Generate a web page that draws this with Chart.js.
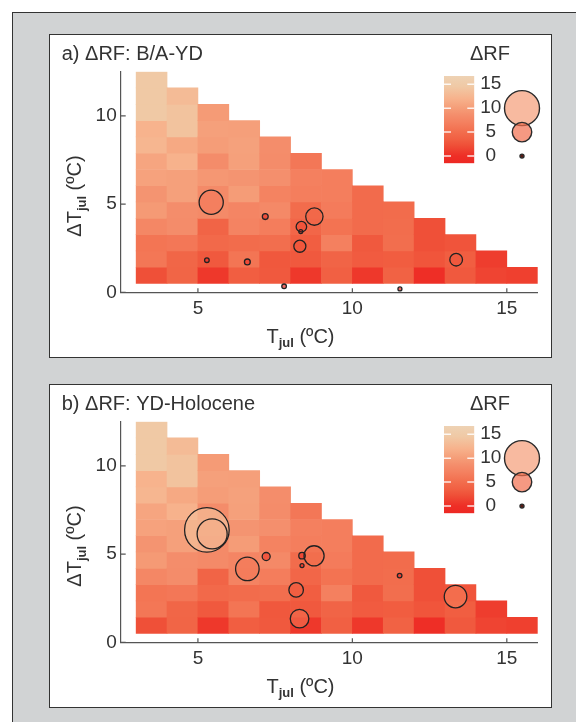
<!DOCTYPE html>
<html>
<head>
<meta charset="utf-8">
<script src="https://cdn.jsdelivr.net/npm/chart.js@4.4.1/dist/chart.umd.min.js"></script>
<style>
  body { margin: 0; width: 576px; height: 722px; overflow: hidden; position: relative; background: #fff; }
  .frame { position: absolute; left: 12px; top: 12px; width: 600px; height: 740px; background: #d1d3d4; border: 1px solid #333; }
  .panel { position: absolute; left: 49px; width: 501px; height: 322px; background: #fff; border: 1px solid #333; }
  .panel canvas { position: absolute; }
</style>
</head>
<body>
<div class="frame"></div>
<div class="panel" style="top:34px">
  <canvas id="mainA" width="501" height="322" style="left:0;top:0"></canvas>
  <canvas id="barA" width="117" height="108" style="left:384px;top:31px"></canvas>
  <canvas id="keyA" width="48" height="108" style="left:448px;top:31px"></canvas>
</div>
<div class="panel" style="top:384px">
  <canvas id="mainB" width="501" height="322" style="left:0;top:0"></canvas>
  <canvas id="barB" width="117" height="108" style="left:384px;top:31px"></canvas>
  <canvas id="keyB" width="48" height="108" style="left:448px;top:31px"></canvas>
</div>
<script>
// grid bins
var tjulEdges = [3, 4, 5, 6, 7, 8, 9, 10, 11, 12, 13, 14, 15, 16];
var dTEdges = [0.5, 1.42, 2.35, 3.27, 4.19, 5.12, 6.04, 6.96, 7.88, 8.81, 9.73, 10.65, 11.58, 12.5];

// background dRF per Tjul column, from the lowest dT row upwards
var rfGrid = [
  [2.3, 6.0, 5.8, 7.8, 9.7, 9.2, 10.5, 10.8, 12.4, 12.1, 14.5, 14.5, 14.5],
  [4.1, 4.2, 6.1, 8.4, 8.5, 10.3, 10.3, 12.0, 11.1, 13.8, 13.8, 13.0],
  [0.7, 3.0, 4.6, 4.0, 8.1, 8.1, 9.4, 8.4, 10.0, 10.3, 9.8],
  [3.4, 5.8, 4.9, 7.4, 7.6, 9.9, 9.2, 10.3, 10.4, 10.2],
  [3.0, 2.9, 5.1, 6.7, 8.0, 7.3, 8.7, 8.4, 8.5],
  [0.7, 3.0, 3.4, 4.3, 4.9, 6.8, 7.0, 6.1],
  [3.6, 4.0, 7.0, 5.6, 6.5, 6.8, 6.8],
  [0.7, 3.2, 3.0, 4.8, 4.8, 4.8],
  [3.8, 3.3, 5.1, 5.0, 4.9],
  [0.0, 2.7, 2.3, 2.3],
  [3.0, 3.4, 2.6],
  [1.5, 1.0],
  [1.2]
];

// sites, panel a (B/A-YD)
var sitesA_tjul = [5.43, 7.18, 8.77, 8.35, 8.33, 8.30, 13.36, 5.29, 6.60, 7.79, 11.54];
var sitesA_dT   = [5.10, 4.29, 4.29, 3.72, 3.44, 2.61, 1.85, 1.82, 1.72, 0.34, 0.19];
var sitesA_rf   = [6.5, 0.6, 4.3, 2.1, 0.0, 2.6, 2.8, 0.2, 0.6, 0.2, 0.0];

// sites, panel b (YD-Holocene)
var sitesB_tjul = [5.46, 5.29, 6.60, 7.21, 8.37, 8.76, 8.37, 8.18, 8.29, 11.53, 13.34];
var sitesB_dT   = [6.14, 6.37, 4.16, 4.86, 4.91, 4.90, 4.35, 2.97, 1.34, 3.78, 2.59];
var sitesB_rf   = [8.4, 13.1, 6.3, 1.3, 0.8, 5.2, 0.0, 3.4, 4.7, 0.2, 6.0];

var legendRF = [10, 5, 0];
var cbarMin = -1.5, cbarMax = 16.7;

var cmapStops = [
  [-1.5, [237, 40, 35]], [0, [238, 46, 38]], [2.3, [239, 80, 56]], [3.5, [241, 95, 66]],
  [5, [242, 109, 77]], [7, [244, 128, 95]], [8.5, [244, 141, 107]], [10, [245, 157, 120]],
  [12, [247, 178, 140]], [14.5, [240, 201, 165]], [16.7, [238, 210, 180]]
];

var fontFam = "'Liberation Sans', Arial, Helvetica, sans-serif";
var textDark = '#333';
var axisGrey = '#555';

function rfColor(v, a) {
  var i = 0;
  while (i < cmapStops.length - 2 && v > cmapStops[i + 1][0]) i++;
  var s0 = cmapStops[i], s1 = cmapStops[i + 1];
  var t = Math.max(0, Math.min(1, (v - s0[0]) / (s1[0] - s0[0])));
  var c = s0[1].map(function (q, k) { return Math.round(q + (s1[1][k] - q) * t); });
  return 'rgba(' + c[0] + ',' + c[1] + ',' + c[2] + ',' + a + ')';
}

function rfRadius(v) {
  return 2 + 1.55 * v;
}

// text with a subscript part, centred on x
function drawSubText(ctx, parts, x, y) {
  var total = 0;
  parts.forEach(function (p) { ctx.font = p[1]; total += ctx.measureText(p[0]).width; });
  var cx = x - total / 2;
  parts.forEach(function (p) {
    ctx.font = p[1];
    ctx.fillText(p[0], cx, y + p[2]);
    cx += ctx.measureText(p[0]).width;
  });
}

function textPlugin(title) {
  return {
    id: 'panelText',
    afterDraw: function (chart) {
      var ctx = chart.ctx;
      var big = '20px ' + fontFam, sub = 'bold 13px ' + fontFam;
      ctx.save();
      ctx.fillStyle = textDark;
      ctx.textBaseline = 'alphabetic';
      ctx.textAlign = 'left';
      ctx.font = big;
      ctx.fillText(title, 11.7, 25);
      ctx.textAlign = 'center';
      ctx.fillText('ΔRF', 440, 25);
      ctx.textAlign = 'left';
      drawSubText(ctx, [['T', big, 0], ['jul', sub, 4.5], [' (ºC)', big, 0]], chart.width / 2, 307.7);
      ctx.translate(31, chart.height / 2);
      ctx.rotate(-Math.PI / 2);
      drawSubText(ctx, [['ΔT', big, 0], ['jul', sub, 4.5], [' (ºC)', big, 0]], 0, 0);
      ctx.restore();
    }
  };
}

// short tick marks pointing into the plot
var innerTicks = {
  id: 'innerTicks',
  afterDraw: function (chart) {
    var ctx = chart.ctx, a = chart.chartArea, sx = chart.scales.x, sy = chart.scales.y;
    ctx.save();
    ctx.strokeStyle = axisGrey;
    ctx.lineWidth = 1.2;
    ctx.beginPath();
    sx.ticks.forEach(function (t) {
      var px = sx.getPixelForValue(t.value);
      ctx.moveTo(px, a.bottom); ctx.lineTo(px, a.bottom - 4);
    });
    sy.ticks.forEach(function (t) {
      var py = sy.getPixelForValue(t.value);
      ctx.moveTo(a.left, py); ctx.lineTo(a.left + 5, py);
    });
    ctx.stroke();
    ctx.restore();
  }
};

function makeMain(id, title, tj, dt, rf) {
  var cells = [], cellColors = [];
  rfGrid.forEach(function (col, i) {
    col.forEach(function (v, j) {
      cells.push({ x: (tjulEdges[i] + tjulEdges[i + 1]) / 2, y: [dTEdges[j], dTEdges[j + 1]] });
      cellColors.push(rfColor(v, 1));
    });
  });
  var pts = tj.map(function (x, i) { return { x: x, y: dt[i], r: rfRadius(rf[i]) }; });
  var tickFont = { family: fontFam, size: 19 };

  new Chart(id, {
    type: 'bar',
    data: {
      datasets: [
        { data: cells, backgroundColor: cellColors, borderWidth: 0, grouped: false,
          barPercentage: 1, categoryPercentage: 1, order: 3 },
        { type: 'bubble', data: pts, backgroundColor: rf.map(function (v) { return rfColor(v, 0.7); }),
          borderWidth: 0, order: 2 },
        { type: 'bubble', data: pts, backgroundColor: 'rgba(0,0,0,0)', borderColor: '#222',
          borderWidth: 1.3, order: 1 }
      ]
    },
    options: {
      responsive: false,
      animation: false,
      events: [],
      layout: { autoPadding: false, padding: { left: 30.7, top: 36.7, right: 13.3, bottom: 34.7 } },
      plugins: { legend: { display: false }, tooltip: { enabled: false } },
      scales: {
        x: {
          type: 'linear', min: 2.5, max: 16, offset: false,
          grid: { display: false, drawTicks: false },
          border: { display: true, color: axisGrey, width: 1.2 },
          ticks: { stepSize: 5, includeBounds: false, padding: 5, color: textDark, font: tickFont },
          afterFit: function (s) { s.height = 30; }
        },
        y: {
          type: 'linear', min: 0, max: 12.5,
          grid: { display: false, drawTicks: false },
          border: { display: true, color: axisGrey, width: 1.2 },
          ticks: { stepSize: 5, includeBounds: false, padding: 4, color: textDark, font: tickFont },
          afterFit: function (s) { s.width = 40; }
        }
      }
    },
    plugins: [innerTicks, textPlugin(title)]
  });
}

// white dashes on both edges of the colour bar
var cbarTicks = {
  id: 'cbarTicks',
  afterDatasetsDraw: function (chart) {
    var ctx = chart.ctx, a = chart.chartArea, sy = chart.scales.y;
    ctx.save();
    ctx.strokeStyle = 'rgba(255,255,255,0.85)';
    ctx.lineWidth = 1.5;
    ctx.beginPath();
    sy.ticks.forEach(function (t) {
      var py = sy.getPixelForValue(t.value);
      ctx.moveTo(a.left, py); ctx.lineTo(a.left + 7, py);
      ctx.moveTo(a.right - 7, py); ctx.lineTo(a.right, py);
    });
    ctx.stroke();
    ctx.restore();
  }
};

function makeColorbar(id) {
  new Chart(id, {
    type: 'bar',
    data: {
      datasets: [
        { data: [{ x: 0.5, y: [cbarMin, cbarMax] }], barThickness: 30.3, borderWidth: 0,
          backgroundColor: function (c) {
            var ch = c.chart, sy = ch.scales.y;
            if (!ch.chartArea) return null;
            var g = ch.ctx.createLinearGradient(0, sy.getPixelForValue(cbarMin), 0, sy.getPixelForValue(cbarMax));
            cmapStops.forEach(function (s) {
              g.addColorStop((s[0] - cbarMin) / (cbarMax - cbarMin), 'rgb(' + s[1].join(',') + ')');
            });
            return g;
          } }
      ]
    },
    options: {
      responsive: false,
      animation: false,
      events: [],
      layout: { autoPadding: false, padding: { left: 10, top: 10, right: 0, bottom: 10.7 } },
      plugins: { legend: { display: false }, tooltip: { enabled: false } },
      scales: {
        x: { type: 'linear', min: 0, max: 1, offset: false, display: false },
        y: {
          type: 'linear', position: 'right', min: cbarMin, max: cbarMax,
          grid: { display: false, drawTicks: false },
          border: { display: false },
          ticks: { stepSize: 5, includeBounds: false, autoSkip: false, crossAlign: 'center',
                   padding: 6, color: textDark, font: { family: fontFam, size: 19 } },
          afterFit: function (s) { s.width = 76.7; s.paddingTop = 0; s.paddingBottom = 0; }
        }
      }
    },
    plugins: [cbarTicks]
  });
}

// size key: circles for dRF = 10, 5, 0 on the colour bar's value scale
function makeSizeKey(id) {
  new Chart(id, {
    type: 'bubble',
    data: {
      datasets: [{
        data: legendRF.map(function (v) { return { x: 0.5, y: v, r: rfRadius(v) }; }),
        backgroundColor: legendRF.map(function (v) { return v > 0 ? rfColor(v, 0.7) : '#5a1a14'; }),
        borderColor: '#2a2a2a', borderWidth: 1.4, clip: false
      }]
    },
    options: {
      responsive: false,
      animation: false,
      events: [],
      layout: { autoPadding: false, padding: { left: 0, top: 10, right: 0, bottom: 10.7 } },
      plugins: { legend: { display: false }, tooltip: { enabled: false } },
      scales: {
        x: { type: 'linear', min: 0, max: 1, display: false },
        y: { type: 'linear', min: cbarMin, max: cbarMax, display: false }
      }
    }
  });
}

makeMain('mainA', 'a) ΔRF: B/A-YD', sitesA_tjul, sitesA_dT, sitesA_rf);
makeMain('mainB', 'b) ΔRF: YD-Holocene', sitesB_tjul, sitesB_dT, sitesB_rf);
makeColorbar('barA');
makeColorbar('barB');
makeSizeKey('keyA');
makeSizeKey('keyB');
</script>
</body>
</html>
